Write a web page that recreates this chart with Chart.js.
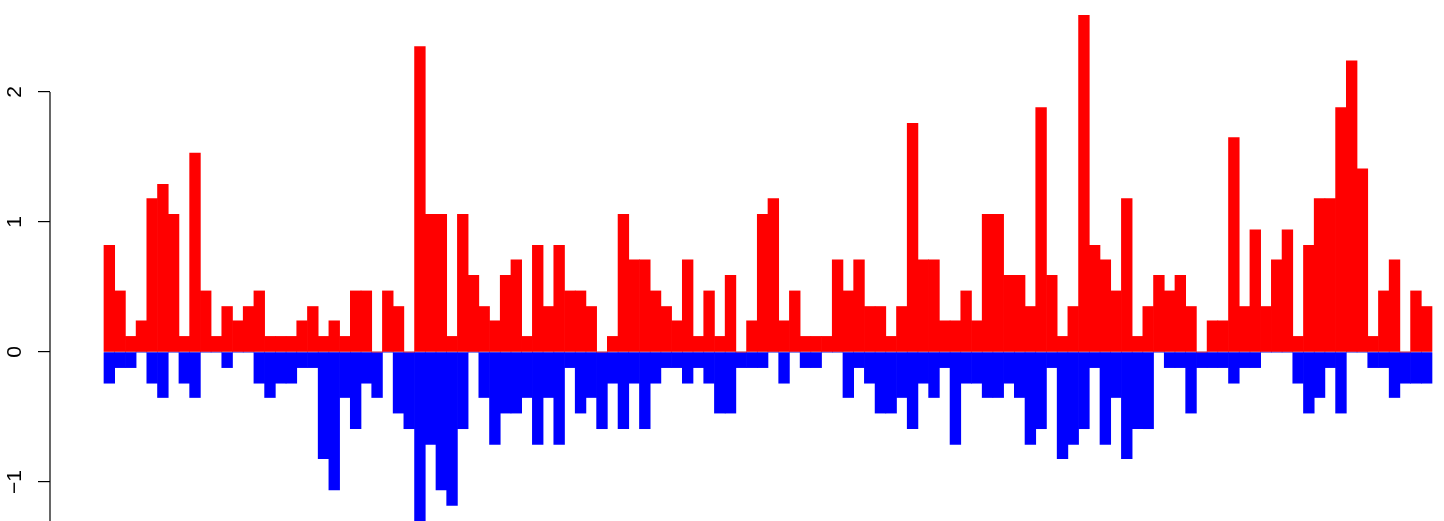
<!DOCTYPE html>
<html>
<head>
<meta charset="utf-8">
<script src="https://cdn.jsdelivr.net/npm/chart.js@4.4.1/dist/chart.umd.min.js"></script>
<style>
  html, body { margin: 0; padding: 0; background: #fff; }
  canvas { display: block; }
</style>
</head>
<body>
<canvas id="bars" width="1444" height="521"></canvas>
<script>
// values, one per bar
const gains = [
  0.82, 0.47, 0.12, 0.24, 1.18, 1.29, 1.06, 0.12, 1.53, 0.47,
  0.12, 0.35, 0.24, 0.35, 0.47, 0.12, 0.12, 0.12, 0.24, 0.35,
  0.12, 0.24, 0.12, 0.47, 0.47, 0, 0.47, 0.35, 0, 2.35,
  1.06, 1.06, 0.12, 1.06, 0.59, 0.35, 0.24, 0.59, 0.71, 0.12,
  0.82, 0.35, 0.82, 0.47, 0.47, 0.35, 0, 0.12, 1.06, 0.71,
  0.71, 0.47, 0.35, 0.24, 0.71, 0.12, 0.47, 0.12, 0.59, 0,
  0.24, 1.06, 1.18, 0.24, 0.47, 0.12, 0.12, 0.12, 0.71, 0.47,
  0.71, 0.35, 0.35, 0.12, 0.35, 1.76, 0.71, 0.71, 0.24, 0.24,
  0.47, 0.24, 1.06, 1.06, 0.59, 0.59, 0.35, 1.88, 0.59, 0.12,
  0.35, 2.59, 0.82, 0.71, 0.47, 1.18, 0.12, 0.35, 0.59, 0.47,
  0.59, 0.35, 0, 0.24, 0.24, 1.65, 0.35, 0.94, 0.35, 0.71,
  0.94, 0.12, 0.82, 1.18, 1.18, 1.88, 2.24, 1.41, 0.12, 0.47,
  0.71, 0, 0.47, 0.35
];

const losses = [
  -0.24, -0.12, -0.12, 0, -0.24, -0.35, 0, -0.24, -0.35, 0,
  0, -0.12, 0, 0, -0.24, -0.35, -0.24, -0.24, -0.12, -0.12,
  -0.82, -1.06, -0.35, -0.59, -0.24, -0.35, 0, -0.47, -0.59, -1.41,
  -0.71, -1.06, -1.18, -0.59, 0, -0.35, -0.71, -0.47, -0.47, -0.35,
  -0.71, -0.35, -0.71, -0.12, -0.47, -0.35, -0.59, -0.24, -0.59, -0.24,
  -0.59, -0.24, -0.12, -0.12, -0.24, -0.12, -0.24, -0.47, -0.47, -0.12,
  -0.12, -0.12, 0, -0.24, 0, -0.12, -0.12, 0, 0, -0.35,
  -0.12, -0.24, -0.47, -0.47, -0.35, -0.59, -0.24, -0.35, -0.12, -0.71,
  -0.24, -0.24, -0.35, -0.35, -0.24, -0.35, -0.71, -0.59, -0.12, -0.82,
  -0.71, -0.59, -0.12, -0.71, -0.35, -0.82, -0.59, -0.59, 0, -0.12,
  -0.12, -0.47, -0.12, -0.12, -0.12, -0.24, -0.12, -0.12, 0, 0,
  0, -0.24, -0.47, -0.35, -0.12, -0.47, 0, 0, -0.12, -0.12,
  -0.35, -0.24, -0.24, -0.24
];

const positions = gains.map((_, i) => i + 1);
const yTicks = [-1, 0, 1, 2];

const toPoints = (vals) => vals.map((v, i) => ({ x: positions[i], y: v }));

// R-style axis: line from top tick down, labels turned on their side
const rAxis = {
  id: 'rAxis',
  beforeDatasetsDraw(chart) {
    const { ctx, scales: { x, y } } = chart;
    const y0 = Math.round(y.getPixelForValue(0));
    ctx.save();
    ctx.strokeStyle = 'rgba(150,150,170,0.8)';
    ctx.lineWidth = 1;
    ctx.beginPath();
    ctx.moveTo(x.getPixelForValue(0.5), y0);
    ctx.lineTo(x.getPixelForValue(positions.length + 0.5), y0);
    ctx.stroke();
    ctx.restore();
  },
  afterDraw(chart) {
    const { ctx, chartArea, scales: { y } } = chart;
    const left = chartArea.left;
    ctx.save();
    ctx.strokeStyle = '#000';
    ctx.lineWidth = 1.2;
    ctx.beginPath();
    ctx.moveTo(left, y.getPixelForValue(yTicks[yTicks.length - 1]));
    ctx.lineTo(left, chartArea.bottom);
    ctx.stroke();

    ctx.fillStyle = '#000';
    ctx.font = '21px "Liberation Sans", Arial, sans-serif';
    ctx.textAlign = 'center';
    ctx.textBaseline = 'alphabetic';
    yTicks.forEach(v => {
      ctx.save();
      ctx.translate(20.5, y.getPixelForValue(v));
      ctx.rotate(-Math.PI / 2);
      ctx.fillText(v < 0 ? '\u2212' + Math.abs(v) : String(v), 0, 0);
      ctx.restore();
    });
    ctx.restore();
  }
};

new Chart(document.getElementById('bars'), {
  type: 'bar',
  data: {
    datasets: [
      {
        data: toPoints(gains),
        backgroundColor: '#FF0000',
        borderWidth: 0,
        grouped: false,
        categoryPercentage: 1,
        barPercentage: 1
      },
      {
        data: toPoints(losses),
        backgroundColor: '#0000FF',
        borderWidth: 0,
        grouped: false,
        categoryPercentage: 1,
        barPercentage: 1
      }
    ]
  },
  options: {
    responsive: false,
    animation: false,
    devicePixelRatio: 1,
    layout: { padding: 0 },
    plugins: {
      legend: { display: false },
      tooltip: { enabled: false }
    },
    scales: {
      x: {
        type: 'linear',
        display: false,
        offset: false,
        grid: { offset: false },
        min: -4.54,
        max: 125.62
      },
      y: {
        min: -1.3,
        max: 2.708,
        afterBuildTicks: (scale) => {
          scale.ticks = yTicks.map(v => ({ value: v }));
        },
        afterFit: (scale) => {
          scale.width = 50;
        },
        ticks: { display: false },
        border: { display: false },
        grid: {
          drawOnChartArea: false,
          drawTicks: true,
          tickLength: 12,
          color: '#000',
          lineWidth: 1.2
        }
      }
    }
  },
  plugins: [rAxis]
});
</script>
</body>
</html>
